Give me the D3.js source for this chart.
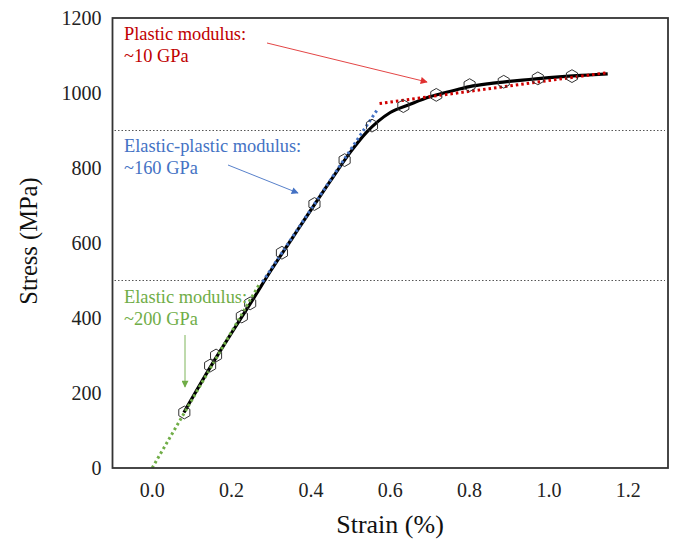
<!DOCTYPE html>
<html><head><meta charset="utf-8">
<script src="https://cdn.jsdelivr.net/npm/d3@7"></script>
<style>body{margin:0;background:#fff}svg{display:block}</style>
</head><body><svg id="c" width="675" height="540"></svg>
<script>
// ---- data ----
const curveStrain = [0.08,0.15,0.2,0.25,0.3,0.35,0.4,0.45,0.5,0.54,0.57,0.6,0.65,0.7,0.75,0.8,0.85,0.9,0.95,1.0,1.05,1.1,1.148];
const curveStress = [148,275,360,443,528,608,688,767,843,895,925,948,970,990,1004,1017,1025,1031,1036,1041,1045,1048,1051];
const markStrain = [0.081,0.146,0.161,0.226,0.247,0.327,0.409,0.485,0.554,0.633,0.716,0.80,0.886,0.972,1.058];
const markStress = [148,273,300,404,439,574,704,821,913,965,995,1021,1030,1039,1045];
const elasticFit = [[0,0],[0.27,490]];
const elasticPlasticFit = [[0.278,496],[0.567,955]];
const plasticFit = [[0.573,972],[1.145,1054]];
const refLines = [900,500];
const xTicks = [0.0,0.2,0.4,0.6,0.8,1.0,1.2];
const yTicks = [0,200,400,600,800,1000,1200];

// ---- layout ----
const FONT="'Liberation Serif'";
const L=112.5,R=668,T=18,B=468;
const svg=d3.select("#c");
const x=d3.scaleLinear().domain([-0.1,1.3]).range([L,R]);
const y=d3.scaleLinear().domain([0,1200]).range([B,T]);

const defs=svg.append("defs");
function marker(id,color){
  defs.append("marker").attr("id",id).attr("viewBox","0 0 10 10").attr("refX",9).attr("refY",5)
   .attr("markerWidth",9).attr("markerHeight",7).attr("markerUnits","userSpaceOnUse").attr("orient","auto")
   .append("path").attr("d","M0,0L10,5L0,10z").attr("fill",color);
}
marker("ar","#e03030");marker("ab","#4472c4");marker("ag","#70ad47");

// reference dotted lines
svg.selectAll(".ref").data(refLines).enter().append("line")
 .attr("x1",L+2).attr("x2",R-3).attr("y1",d=>y(d)).attr("y2",d=>y(d))
 .attr("stroke","#555").attr("stroke-width",1).attr("stroke-dasharray","1.5,2");

// main curve
const line=d3.line().x(d=>x(d[0])).y(d=>y(d[1])).curve(d3.curveMonotoneX);
svg.append("path").datum(curveStrain.map((s,i)=>[s,curveStress[i]]))
 .attr("d",line).attr("fill","none").attr("stroke","#000").attr("stroke-width",3.2);

// fit lines
const lin=d3.line().x(d=>x(d[0])).y(d=>y(d[1]));
[[elasticFit,"#70ad47"],[elasticPlasticFit,"#4472c4"],[plasticFit,"#d00000"]].forEach(([d,c])=>{
 svg.append("path").attr("d",lin(d)).attr("fill","none").attr("stroke",c).attr("stroke-width",3).attr("stroke-dasharray","2.5,3");
});

// hexagon markers
function hex(cx,cy,r){const p=[];for(let k=0;k<6;k++){const a=(-90+60*k)*Math.PI/180;p.push([cx+r*Math.cos(a),cy+r*Math.sin(a)]);}return "M"+p.map(q=>q.join(",")).join("L")+"Z";}
svg.selectAll(".hx").data(markStrain).enter().append("path")
 .attr("d",(d,i)=>hex(x(d),y(markStress[i]),6.4)).attr("fill","none").attr("stroke","#333").attr("stroke-width",1);

// frame
svg.append("rect").attr("x",L).attr("y",T).attr("width",R-L).attr("height",B-T)
 .attr("fill","none").attr("stroke","#333").attr("stroke-width",1.8);

// tick labels
svg.selectAll(".xt").data(xTicks).enter().append("text").attr("x",d=>x(d)).attr("y",497)
 .attr("text-anchor","middle").attr("font-size",20).attr("fill","#222").style("font-family",FONT).text(d=>d.toFixed(1));
svg.selectAll(".yt").data(yTicks).enter().append("text").attr("x",101.5).attr("y",d=>y(d)+6.8)
 .attr("text-anchor","end").attr("font-size",20).attr("fill","#222").style("font-family",FONT).text(d=>d);

// axis titles
svg.append("text").attr("x",390).attr("y",533).attr("text-anchor","middle").attr("font-size",26).attr("fill","#111").style("font-family",FONT).text("Strain (%)");
svg.append("text").attr("transform","translate(36.5,241) rotate(-90)").attr("text-anchor","middle").attr("font-size",24.5).attr("fill","#111").style("font-family",FONT).text("Stress (MPa)");

// annotations
function ann(lines,x0,y0,color){lines.forEach((t,i)=>svg.append("text").attr("x",x0).attr("y",y0+i*22).attr("font-size",18.4).attr("fill",color).style("font-family",FONT).text(t));}
ann(["Plastic modulus:","~10 GPa"],124,39.5,"#c00000");
ann(["Elastic-plastic modulus:","~160 GPa"],124,152,"#4472c4");
ann(["Elastic modulus:","~200 GPa"],124,303,"#70ad47");

svg.append("line").attr("x1",267).attr("y1",43).attr("x2",427).attr("y2",82).attr("stroke","#e03030").attr("stroke-width",0.9).attr("marker-end","url(#ar)");
svg.append("line").attr("x1",228).attr("y1",165).attr("x2",298).attr("y2",193).attr("stroke","#4472c4").attr("stroke-width",0.9).attr("marker-end","url(#ab)");
svg.append("line").attr("x1",185).attr("y1",335).attr("x2",185).attr("y2",387).attr("stroke","#70ad47").attr("stroke-width",0.9).attr("marker-end","url(#ag)");
</script></body></html>
